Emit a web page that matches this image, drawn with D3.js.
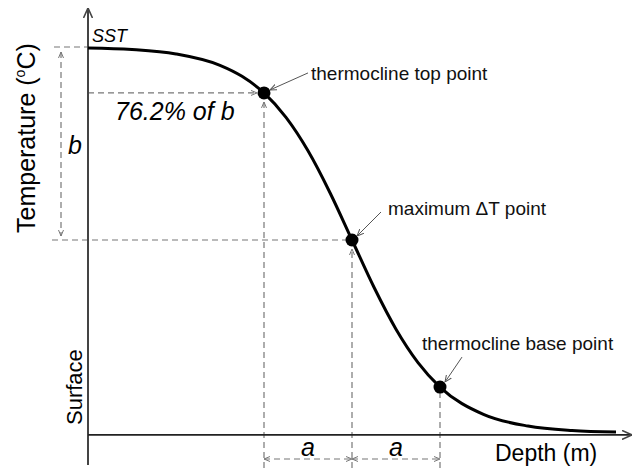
<!DOCTYPE html>
<html>
<head>
<meta charset="utf-8">
<script src="https://cdn.jsdelivr.net/npm/d3@7"></script>
<style>
  body { margin: 0; background: #fff; }
  svg { display: block; font-family: "Liberation Sans", Arial, sans-serif; }
</style>
</head>
<body>
<div class="chart"></div>
<script>
const width = 639;
const height = 471;

// depth in units of a, temperature in units of b
const depth = [0, 0.5, 1, 1.5, 1.75, 2, 2.25, 2.5, 2.75, 3, 3.25, 3.5, 3.75, 4, 4.5, 5, 5.5, 6];
const temp = [1.995, 1.987, 1.964, 1.905, 1.848, 1.762, 1.635, 1.462, 1.245, 1.0, 0.755, 0.538, 0.365, 0.238, 0.095, 0.036, 0.013, 0.005];

const pointDepth = [2, 3, 4];
const pointTemp = [1.762, 1.0, 0.238];
const pointLabels = ['thermocline top point', 'maximum \u0394T point', 'thermocline base point'];

const sst = 2;

const color = {
  curve: '#000',
  axis: '#444',
  dash: '#777',
  note: '#555',
};

const x = d3.scaleLinear().domain([0, 3]).range([88, 352]);
const y = d3.scaleLinear().domain([0, 2]).range([433, 47]);

const svg = d3.select('.chart')
  .append('svg')
    .attr('width', width)
    .attr('height', height);

const defs = svg.append('defs');
[['axisHead', color.axis, 10, 1.6], ['dashHead', color.dash, 6, 1], ['noteHead', color.note, 7, 1]].forEach(([id, c, s, w]) => {
  defs.append('marker')
    .attr('id', id)
    .attr('viewBox', [0, 0, s, s])
    .attr('refX', s)
    .attr('refY', s / 2)
    .attr('markerWidth', s)
    .attr('markerHeight', s)
    .attr('markerUnits', 'userSpaceOnUse')
    .attr('orient', 'auto-start-reverse')
    .append('path')
      .attr('d', `M0,0.5L${s},${s / 2}L0,${s - 0.5}`)
      .attr('fill', 'none')
      .attr('stroke', c)
      .attr('stroke-width', w);
});

const x0 = x(0);
const xAxisY = y(-0.01);

// dashed guide lines
const dashed = svg.append('g')
  .attr('stroke', color.dash)
  .attr('stroke-width', 1.2)
  .attr('stroke-dasharray', '6,4')
  .attr('fill', 'none');

function dline(x1, y1, x2, y2, start, end) {
  const l = dashed.append('line')
    .attr('x1', x1).attr('y1', y1)
    .attr('x2', x2).attr('y2', y2);
  if (start) l.attr('marker-start', 'url(#dashHead)');
  if (end) l.attr('marker-end', 'url(#dashHead)');
}

dline(54, y(sst), x0, y(sst));
dline(52, y(pointTemp[1]), x(pointDepth[1]), y(pointTemp[1]));
dline(x0, y(pointTemp[0]), x(pointDepth[0]) - 7, y(pointTemp[0]), false, true);
dline(61, y(sst) + 5, 61, y(pointTemp[1]) - 4, true, true);
dline(x(pointDepth[0]), 468, x(pointDepth[0]), y(pointTemp[0]) + 9, false, true);
dline(x(pointDepth[1]), 468, x(pointDepth[1]), y(pointTemp[1]) + 9, false, true);
dline(x(pointDepth[2]), 468, x(pointDepth[2]), y(pointTemp[2]) + 6);
dline(x(pointDepth[0]), 459, x(pointDepth[1]), 459, true, true);
dline(x(pointDepth[1]), 459, x(pointDepth[2]), 459, true, true);

// axes
svg.append('line')
  .attr('x1', x0).attr('y1', 465)
  .attr('x2', x0).attr('y2', 8)
  .attr('stroke', color.axis)
  .attr('stroke-width', 2)
  .attr('marker-end', 'url(#axisHead)');

svg.append('line')
  .attr('x1', x0).attr('y1', xAxisY)
  .attr('x2', 632).attr('y2', xAxisY)
  .attr('stroke', '#222')
  .attr('stroke-width', 1.8)
  .attr('marker-end', 'url(#axisHead)');

// temperature profile
const line = d3.line()
  .x((d, i) => x(depth[i]))
  .y(d => y(d))
  .curve(d3.curveMonotoneX);

svg.append('path')
  .datum(temp)
  .attr('d', line)
  .attr('fill', 'none')
  .attr('stroke', color.curve)
  .attr('stroke-width', 3);

// points and notes
const noteOffsets = [[[44, -20], [6, -3]], [[29, -28], [5, -4]], [[22, -30], [5, -5]]];
const labelOffsets = [[47, -13], [36, -25], [-18, -37]];

pointDepth.forEach((d, i) => {
  const px = x(d), py = y(pointTemp[i]);
  svg.append('circle')
    .attr('cx', px).attr('cy', py)
    .attr('r', 6.5)
    .attr('fill', '#000');
  const [[ax, ay], [bx, by]] = noteOffsets[i];
  svg.append('line')
    .attr('x1', px + ax).attr('y1', py + ay)
    .attr('x2', px + bx).attr('y2', py + by)
    .attr('stroke', color.note)
    .attr('stroke-width', 1)
    .attr('marker-end', 'url(#noteHead)');
  svg.append('text')
    .attr('x', px + labelOffsets[i][0])
    .attr('y', py + labelOffsets[i][1])
    .attr('font-size', 19)
    .attr('fill', '#111')
    .text(pointLabels[i]);
});

// texts
svg.append('text')
  .attr('x', 92).attr('y', 42)
  .attr('font-size', 18)
  .attr('font-style', 'italic')
  .text('SST');

svg.append('text')
  .attr('x', 115).attr('y', 120)
  .attr('font-size', 25)
  .attr('font-style', 'italic')
  .text('76.2% of b');

svg.append('text')
  .attr('x', 68).attr('y', 154)
  .attr('font-size', 25)
  .attr('font-style', 'italic')
  .text('b');

[[x(pointDepth[0]), x(pointDepth[1])], [x(pointDepth[1]), x(pointDepth[2])]].forEach(([a, b]) => {
  svg.append('text')
    .attr('x', (a + b) / 2).attr('y', 456)
    .attr('text-anchor', 'middle')
    .attr('font-size', 25)
    .attr('font-style', 'italic')
    .text('a');
});

svg.append('text')
  .attr('x', 495).attr('y', 461)
  .attr('font-size', 23)
  .text('Depth (m)');

const yl = svg.append('text')
  .attr('transform', 'translate(35,233) rotate(-90)')
  .attr('font-size', 25)
  .text('Temperature (');
yl.append('tspan')
  .attr('font-size', 14)
  .attr('dy', -10)
  .text('o');
yl.append('tspan')
  .attr('dy', 10)
  .text('C)');

svg.append('text')
  .attr('transform', 'translate(82,425) rotate(-90)')
  .attr('font-size', 22)
  .text('Surface');
</script>
</body>
</html>
